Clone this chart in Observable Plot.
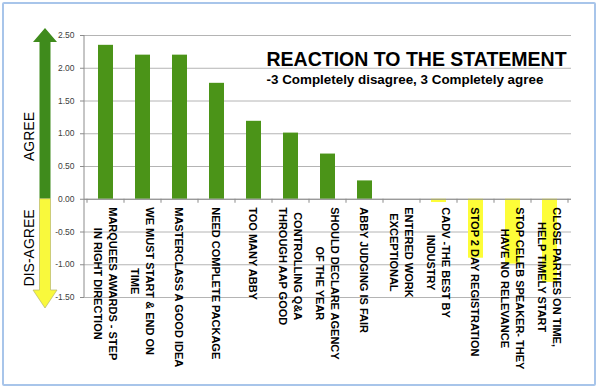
<!DOCTYPE html>
<html><head><meta charset="utf-8">
<script src="https://cdn.jsdelivr.net/npm/d3@7"></script>
<script src="https://cdn.jsdelivr.net/npm/@observablehq/plot@0.6"></script>
<style>
body{margin:0;background:#fff;}
#wrap{position:relative;width:600px;height:392px;overflow:hidden;background:#fff;}
#border{position:absolute;left:2px;top:2px;width:590px;height:380px;border:2px solid #a8c5ea;border-radius:2px;pointer-events:none;}
</style></head><body>
<div id="wrap"><div id="chart"></div><div id="border"></div></div>
<script>
const categories = [
  "MARQUEES AWARDS - STEP\nIN RIGHT DIRECTION",
  "WE MUST START & END ON\nTIME",
  "MASTERCLASS A GOOD IDEA",
  "NEED COMPLETE PACKAGE",
  "TOO MANY ABBY",
  "CONTROLLING Q&A\nTHROUGH AAP GOOD",
  "SHOULD DECLARE AGENCY\nOF THE YEAR",
  "ABBY JUDGING IS FAIR",
  "ENTERED WORK\nEXCEPTIONAL",
  "CADV -THE BEST BY\nINDUSTRY",
  "STOP 2 DAY REGISTRATION",
  "STOP CELEB SPEAKER- THEY\nHAVE NO RELEVANCE",
  "CLOSE PARTIES ON TIME,\nHELP TIMELY START"
];
const values = [2.35, 2.20, 2.20, 1.77, 1.19, 1.01, 0.69, 0.28, 0.00, -0.05, -0.90, -0.99, -1.27];
const yTicks = [-1.5, -1, -0.5, 0, 0.5, 1, 1.5, 2, 2.5];
const title = "REACTION TO THE STATEMENT";
const subtitle = "-3 Completely disagree, 3 Completely agree";
const sideLabels = ["AGREE", "DIS-AGREE"];
const sidePos = [0.95, -0.75];

const GREEN = "#4b9418";
const YELLOW = "#fdfd38";
const data = categories.map((c, i) => ({cat: c, value: values[i]}));

function decor(index, scales, values_, dims) {
  const {x, y} = scales;
  const g = d3.create("svg:g");
  const ml = dims.marginLeft;
  const cx = ml - 39;
  const hw = 5.5, hh = 12;
  const y0 = y(0), yTop = y(d3.max(yTicks)), yBot = y(d3.min(yTicks));
  g.append("path")
    .attr("d", `M${cx-hw},${y0} V${yTop+7} H${cx-hh} L${cx},${yTop-7} L${cx+hh},${yTop+7} H${cx+hw} V${y0} Z`)
    .attr("fill", "#3f8b1c");
  g.append("path")
    .attr("d", `M${cx-hw},${y0} V${yBot-7} H${cx-hh} L${cx},${yBot+11} L${cx+hh},${yBot-7} H${cx+hw} V${y0} Z`)
    .attr("fill", "#f9f93c").attr("stroke", "#b8b86a").attr("stroke-width", 0.7);
  sideLabels.forEach((t, i) => {
    g.append("text")
      .attr("transform", `translate(${cx - 16},${y(sidePos[i])}) rotate(-90)`)
      .attr("text-anchor", "middle").attr("dy", "0.35em")
      .attr("font-size", 14).attr("fill", "#000").text(t);
  });
  g.append("line").attr("x1", ml).attr("x2", ml).attr("y1", yTop).attr("y2", yBot).attr("stroke", "#8c8c8c");
  const step = x.step(), bw = x.bandwidth();
  const dom = x.domain();
  const bounds = dom.map(d => x(d) - (step - bw) / 2).concat([x(dom[dom.length - 1]) + bw + (step - bw) / 2]);
  for (const b of bounds) {
    g.append("line").attr("x1", b).attr("x2", b).attr("y1", y0).attr("y2", y0 + 4).attr("stroke", "#8c8c8c");
  }
  return g.node();
}

const plot = Plot.plot({
  width: 600, height: 392,
  marginLeft: 84, marginRight: 29, marginTop: 35, marginBottom: 95,
  style: {fontFamily: "'Liberation Sans', Arial, sans-serif", background: "transparent", overflow: "visible"},
  x: {domain: categories, paddingInner: 0.6, paddingOuter: 0.3, axis: null},
  y: {domain: [d3.min(yTicks), d3.max(yTicks)], axis: null},
  marks: [
    Plot.gridY(yTicks, {stroke: "#b4b4b4", strokeOpacity: 1}),
    Plot.axisY(yTicks, {tickSize: 4, tickPadding: 6, tickFormat: d => d.toFixed(2), fontSize: 8.5, fill: "#404040", stroke: "#8c8c8c", label: null}),
    Plot.text([title], {text: d => d, frameAnchor: "top-left", dx: 182, dy: 17, textAnchor: "start", fontSize: 19.5, fontWeight: "bold", fill: "#000"}),
    Plot.text([subtitle], {text: d => d, frameAnchor: "top-left", dx: 182, dy: 39, textAnchor: "start", fontSize: 13.4, fontWeight: "bold", fill: "#000"}),
    Plot.barY(data, {filter: d => d.value >= 0, x: "cat", y: "value", fill: GREEN}),
    Plot.barY(data, {filter: d => d.value < 0, x: "cat", y: "value", fill: YELLOW}),
    Plot.ruleY([0], {stroke: "#8c8c8c"}),
    decor,
    Plot.text(data, {x: "cat", y: d => 0, text: "cat", dy: 8, rotate: 90, textAnchor: "start", lineAnchor: "middle", lineHeight: 1.35, fontSize: 11, fontWeight: "bold", fill: "#000"})
  ]
});
document.getElementById("chart").appendChild(plot);

// center each line of multi-line labels within its block
plot.querySelectorAll("text").forEach(t => {
  const spans = t.querySelectorAll("tspan");
  if (spans.length < 2) return;
  let maxW = 0;
  spans.forEach(s => { maxW = Math.max(maxW, s.getComputedTextLength()); });
  t.setAttribute("text-anchor", "middle");
  t.style.textAnchor = "middle";
  spans.forEach(s => { s.setAttribute("x", maxW / 2); s.setAttribute("text-anchor", "middle"); });
});
</script>
</body></html>
